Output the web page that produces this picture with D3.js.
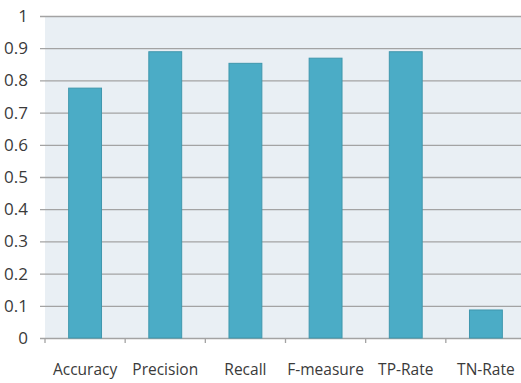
<!DOCTYPE html>
<html>
<head>
<meta charset="utf-8">
<script src="https://cdn.jsdelivr.net/npm/d3@7"></script>
<style>
	body { margin: 0; background: #fff; }
	svg text { font-family: "Open Sans", sans-serif; fill: #3a3a3a; }
</style>
</head>
<body>
<svg id="chart" width="521" height="383"></svg>
<script>
// data
const categories = ["Accuracy", "Precision", "Recall", "F-measure", "TP-Rate", "TN-Rate"];
const values = [0.776, 0.889, 0.853, 0.869, 0.889, 0.087];
const y_ticks = [0, 0.1, 0.2, 0.3, 0.4, 0.5, 0.6, 0.7, 0.8, 0.9, 1];

const svg = d3.select("#chart");
const plot_left = 45, plot_right = 526, plot_top = 16, plot_bottom = 338;

const x = d3.scaleBand()
	.domain(categories)
	.range([plot_left, plot_right])
	.paddingInner(0.59)
	.paddingOuter(0.295);

const y = d3.scaleLinear()
	.domain([0, 1])
	.range([plot_bottom, plot_top]);

// plot background
svg.append("rect")
	.attr("x", plot_left)
	.attr("y", plot_top)
	.attr("width", plot_right - plot_left)
	.attr("height", plot_bottom - plot_top)
	.attr("fill", "#e9eff4");

// gridlines + y labels
const grid = svg.append("g")
	.attr("transform", `translate(${plot_left},0)`)
	.call(d3.axisLeft(y).tickValues(y_ticks).tickSize(-(plot_right - plot_left)).tickPadding(17)
		.tickFormat(d => d === 0 ? "0" : d === 1 ? "1" : d3.format(".1f")(d)));
grid.select(".domain").remove();
grid.selectAll(".tick line")
	.attr("x1", -5)
	.attr("stroke", "#a3a3a3")
	.attr("stroke-width", 1.3);
grid.selectAll(".tick text")
	.style("font-size", "17px");

// bars
svg.append("g")
	.selectAll("rect")
	.data(values)
	.join("rect")
	.attr("x", (d, i) => x(categories[i]))
	.attr("y", d => y(d))
	.attr("width", x.bandwidth())
	.attr("height", d => y(0) - y(d))
	.attr("fill", "#4bacc6")
	.attr("stroke", "#3f97ad")
	.attr("stroke-width", 1);

// x axis ticks between categories
const step = x.step();
const boundaries = d3.range(categories.length + 1).map(i => plot_left + i * step);
svg.append("g")
	.selectAll("line")
	.data(boundaries)
	.join("line")
	.attr("x1", d => d).attr("x2", d => d)
	.attr("y1", plot_bottom).attr("y2", plot_bottom + 5)
	.attr("stroke", "#a3a3a3")
	.attr("stroke-width", 1.3);

svg.append("g")
	.selectAll("text")
	.data(categories)
	.join("text")
	.attr("x", d => x(d) + x.bandwidth() / 2)
	.attr("y", 375)
	.attr("text-anchor", "middle")
	.style("font-size", "15.5px")
	.text(d => d);
</script>
</body>
</html>
